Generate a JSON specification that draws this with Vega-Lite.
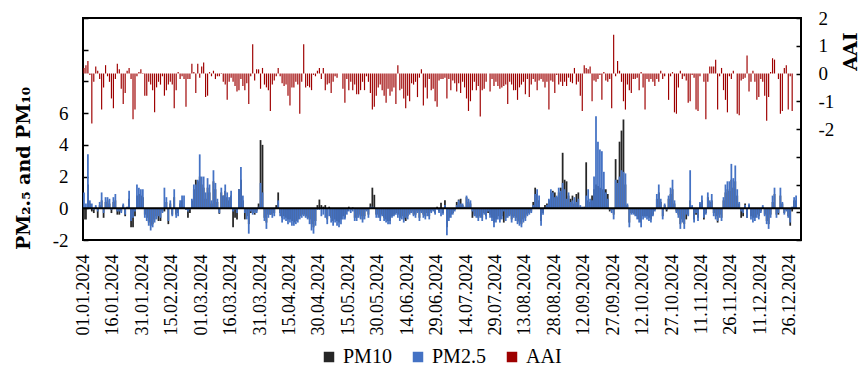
{
"$schema": "https://vega.github.io/schema/vega-lite/v6.json",
"width": 718,
"height": 222,
"autosize": {"type": "none"},
"padding": {"left": 83, "top": 18, "right": 64, "bottom": 129},
"background": "white",
"config": {"view": {"stroke": "#000", "strokeWidth": 2}, "font": "Liberation Serif"},
"data": {"values": [
{"d":"01.01.2024","pm10":-0.7,"pm25":1.0,"aai":0.2},
{"d":"02.01.2024","pm10":-0.7,"pm25":0.3,"aai":0.3},
{"d":"03.01.2024","pm10":1.5,"pm25":3.4,"aai":0.45},
{"d":"04.01.2024","pm10":0.3,"pm25":0.5,"aai":-0.05},
{"d":"05.01.2024","pm10":-0.2,"pm25":0.3,"aai":-1.8},
{"d":"06.01.2024","pm10":-0.3,"pm25":-0.1,"aai":-0.3},
{"d":"07.01.2024","pm10":0.1,"pm25":0.2,"aai":0.25},
{"d":"08.01.2024","pm10":-0.6,"pm25":-0.2,"aai":0.1},
{"d":"09.01.2024","pm10":0.2,"pm25":0.4,"aai":-0.2},
{"d":"10.01.2024","pm10":0.5,"pm25":1.0,"aai":-1.3},
{"d":"11.01.2024","pm10":-0.6,"pm25":-0.3,"aai":-0.5},
{"d":"12.01.2024","pm10":0.4,"pm25":0.7,"aai":0.3},
{"d":"13.01.2024","pm10":0.5,"pm25":0.7,"aai":-0.1},
{"d":"14.01.2024","pm10":0.3,"pm25":0.6,"aai":-0.3},
{"d":"15.01.2024","pm10":-0.3,"pm25":-0.1,"aai":-0.9},
{"d":"16.01.2024","pm10":0.4,"pm25":0.7,"aai":-1.25},
{"d":"17.01.2024","pm10":0.5,"pm25":0.9,"aai":-0.2},
{"d":"18.01.2024","pm10":-0.4,"pm25":-0.2,"aai":0.35},
{"d":"19.01.2024","pm10":-0.4,"pm25":-0.2,"aai":0.15},
{"d":"20.01.2024","pm10":-0.2,"pm25":-0.3,"aai":-0.55},
{"d":"21.01.2024","pm10":0.2,"pm25":0.3,"aai":-1.1},
{"d":"22.01.2024","pm10":-0.5,"pm25":-0.4,"aai":-0.7},
{"d":"23.01.2024","pm10":0.05,"pm25":0.1,"aai":0.1},
{"d":"24.01.2024","pm10":0.6,"pm25":1.1,"aai":0.2},
{"d":"25.01.2024","pm10":-1.2,"pm25":-0.8,"aai":-0.2},
{"d":"26.01.2024","pm10":-1.2,"pm25":-0.6,"aai":-1.65},
{"d":"27.01.2024","pm10":-0.5,"pm25":-0.2,"aai":-1.3},
{"d":"28.01.2024","pm10":0.8,"pm25":1.5,"aai":-0.1},
{"d":"29.01.2024","pm10":0.9,"pm25":1.3,"aai":0.05},
{"d":"30.01.2024","pm10":0.8,"pm25":1.2,"aai":0.15},
{"d":"31.01.2024","pm10":0.7,"pm25":1.2,"aai":0.02},
{"d":"01.02.2024","pm10":-0.4,"pm25":-0.6,"aai":-0.8},
{"d":"02.02.2024","pm10":-0.6,"pm25":-0.8,"aai":-0.8},
{"d":"03.02.2024","pm10":-0.9,"pm25":-1.1,"aai":-0.3},
{"d":"04.02.2024","pm10":-1.1,"pm25":-1.4,"aai":-0.4},
{"d":"05.02.2024","pm10":-1.0,"pm25":-1.2,"aai":-0.6},
{"d":"06.02.2024","pm10":-0.7,"pm25":-0.9,"aai":-1.4},
{"d":"07.02.2024","pm10":-0.5,"pm25":-0.7,"aai":-0.5},
{"d":"08.02.2024","pm10":-0.8,"pm25":-0.5,"aai":-0.3},
{"d":"09.02.2024","pm10":-0.8,"pm25":-0.6,"aai":-0.4},
{"d":"10.02.2024","pm10":-0.2,"pm25":-0.3,"aai":-0.1},
{"d":"11.02.2024","pm10":-0.2,"pm25":1.3,"aai":-0.8},
{"d":"12.02.2024","pm10":0.4,"pm25":0.7,"aai":-0.6},
{"d":"13.02.2024","pm10":-1.0,"pm25":-0.8,"aai":-0.4},
{"d":"14.02.2024","pm10":0.3,"pm25":0.5,"aai":-0.3},
{"d":"15.02.2024","pm10":-0.4,"pm25":-0.5,"aai":-0.4},
{"d":"16.02.2024","pm10":0.7,"pm25":1.2,"aai":-1.25},
{"d":"17.02.2024","pm10":-0.4,"pm25":-0.6,"aai":-0.6},
{"d":"18.02.2024","pm10":-0.3,"pm25":-0.5,"aai":0.05},
{"d":"19.02.2024","pm10":0.3,"pm25":0.5,"aai":-0.2},
{"d":"20.02.2024","pm10":0.5,"pm25":0.8,"aai":-0.1},
{"d":"21.02.2024","pm10":0.1,"pm25":0.8,"aai":-0.2},
{"d":"22.02.2024","pm10":-0.1,"pm25":-0.1,"aai":-1.2},
{"d":"23.02.2024","pm10":-0.6,"pm25":-0.2,"aai":-0.2},
{"d":"24.02.2024","pm10":-0.3,"pm25":-0.1,"aai":-0.2},
{"d":"25.02.2024","pm10":0.5,"pm25":0.6,"aai":0.35},
{"d":"26.02.2024","pm10":1.2,"pm25":1.5,"aai":0.05},
{"d":"27.02.2024","pm10":1.8,"pm25":1.5,"aai":-0.7},
{"d":"28.02.2024","pm10":1.7,"pm25":1.8,"aai":0.35},
{"d":"29.02.2024","pm10":2.0,"pm25":3.4,"aai":-0.15},
{"d":"01.03.2024","pm10":1.5,"pm25":2.0,"aai":0.25},
{"d":"02.03.2024","pm10":1.3,"pm25":2.0,"aai":0.4},
{"d":"03.03.2024","pm10":0.6,"pm25":1.0,"aai":-0.85},
{"d":"04.03.2024","pm10":1.3,"pm25":1.9,"aai":-0.8},
{"d":"05.03.2024","pm10":1.0,"pm25":1.5,"aai":0.05},
{"d":"06.03.2024","pm10":0.3,"pm25":0.5,"aai":-0.1},
{"d":"07.03.2024","pm10":1.7,"pm25":2.4,"aai":0.1},
{"d":"08.03.2024","pm10":1.2,"pm25":1.6,"aai":-0.2},
{"d":"09.03.2024","pm10":0.4,"pm25":0.6,"aai":-0.1},
{"d":"10.03.2024","pm10":-0.35,"pm25":-0.3,"aai":-0.1},
{"d":"11.03.2024","pm10":1.0,"pm25":1.3,"aai":0.02},
{"d":"12.03.2024","pm10":0.8,"pm25":0.8,"aai":-0.3},
{"d":"13.03.2024","pm10":1.1,"pm25":1.5,"aai":-0.4},
{"d":"14.03.2024","pm10":0.7,"pm25":1.0,"aai":-0.95},
{"d":"15.03.2024","pm10":0.5,"pm25":0.7,"aai":-0.3},
{"d":"16.03.2024","pm10":0.8,"pm25":1.1,"aai":-0.15},
{"d":"17.03.2024","pm10":-1.2,"pm25":-0.2,"aai":-0.3},
{"d":"18.03.2024","pm10":-0.6,"pm25":-0.1,"aai":-0.45},
{"d":"19.03.2024","pm10":-0.7,"pm25":-0.3,"aai":-0.65},
{"d":"20.03.2024","pm10":1.2,"pm25":1.2,"aai":-0.6},
{"d":"21.03.2024","pm10":1.8,"pm25":2.6,"aai":-0.2},
{"d":"22.03.2024","pm10":0.5,"pm25":0.8,"aai":-0.45},
{"d":"23.03.2024","pm10":-0.7,"pm25":-0.3,"aai":-0.6},
{"d":"24.03.2024","pm10":-0.5,"pm25":-0.7,"aai":-0.35},
{"d":"25.03.2024","pm10":-1.0,"pm25":-1.6,"aai":-1.1},
{"d":"26.03.2024","pm10":-0.3,"pm25":-0.2,"aai":-0.1},
{"d":"27.03.2024","pm10":-0.3,"pm25":-0.4,"aai":1.05},
{"d":"28.03.2024","pm10":-0.4,"pm25":-0.3,"aai":-0.25},
{"d":"29.03.2024","pm10":-0.2,"pm25":-0.3,"aai":0.15},
{"d":"30.03.2024","pm10":0.3,"pm25":0.1,"aai":0.15},
{"d":"31.03.2024","pm10":4.3,"pm25":1.6,"aai":-0.55},
{"d":"01.04.2024","pm10":4.0,"pm25":1.0,"aai":0.2},
{"d":"02.04.2024","pm10":-0.6,"pm25":-0.8,"aai":-0.4},
{"d":"03.04.2024","pm10":-0.9,"pm25":-1.3,"aai":-0.5},
{"d":"04.04.2024","pm10":-0.4,"pm25":-0.6,"aai":-0.6},
{"d":"05.04.2024","pm10":-0.4,"pm25":-0.4,"aai":-1.35},
{"d":"06.04.2024","pm10":-0.4,"pm25":-0.6,"aai":-0.4},
{"d":"07.04.2024","pm10":-0.3,"pm25":-0.5,"aai":-0.25},
{"d":"08.04.2024","pm10":0.2,"pm25":0.05,"aai":-0.1},
{"d":"09.04.2024","pm10":1.0,"pm25":0.5,"aai":0.2},
{"d":"10.04.2024","pm10":-0.3,"pm25":-0.5,"aai":-0.1},
{"d":"11.04.2024","pm10":-0.6,"pm25":-0.9,"aai":-0.35},
{"d":"12.04.2024","pm10":-0.5,"pm25":-0.7,"aai":-0.45},
{"d":"13.04.2024","pm10":-0.6,"pm25":-0.8,"aai":-0.4},
{"d":"14.04.2024","pm10":-0.7,"pm25":-1.0,"aai":-0.8},
{"d":"15.04.2024","pm10":-0.7,"pm25":-0.9,"aai":-1.15},
{"d":"16.04.2024","pm10":-0.8,"pm25":-1.1,"aai":-0.5},
{"d":"17.04.2024","pm10":-0.9,"pm25":-1.1,"aai":-0.5},
{"d":"18.04.2024","pm10":-0.8,"pm25":-1.0,"aai":-0.3},
{"d":"19.04.2024","pm10":-0.7,"pm25":-0.9,"aai":-0.4},
{"d":"20.04.2024","pm10":-0.5,"pm25":-0.7,"aai":-1.45},
{"d":"21.04.2024","pm10":-0.4,"pm25":-0.6,"aai":-0.3},
{"d":"22.04.2024","pm10":-0.4,"pm25":-0.5,"aai":1.05},
{"d":"23.04.2024","pm10":-0.5,"pm25":-0.6,"aai":-0.5},
{"d":"24.04.2024","pm10":-0.6,"pm25":-0.7,"aai":-0.45},
{"d":"25.04.2024","pm10":-0.7,"pm25":-1.0,"aai":-0.5},
{"d":"26.04.2024","pm10":-1.0,"pm25":-1.4,"aai":-0.6},
{"d":"27.04.2024","pm10":-1.2,"pm25":-1.6,"aai":-0.05},
{"d":"28.04.2024","pm10":-0.8,"pm25":-1.1,"aai":-0.1},
{"d":"29.04.2024","pm10":0.2,"pm25":-0.1,"aai":0.1},
{"d":"30.04.2024","pm10":0.55,"pm25":-0.1,"aai":0.2},
{"d":"01.05.2024","pm10":0.2,"pm25":-0.5,"aai":-0.2},
{"d":"02.05.2024","pm10":0.1,"pm25":-0.4,"aai":0.2},
{"d":"03.05.2024","pm10":0.2,"pm25":-0.6,"aai":-0.6},
{"d":"04.05.2024","pm10":-0.7,"pm25":-1.0,"aai":-0.4},
{"d":"05.05.2024","pm10":0.1,"pm25":-0.5,"aai":-0.35},
{"d":"06.05.2024","pm10":-0.6,"pm25":-0.9,"aai":-0.7},
{"d":"07.05.2024","pm10":-0.8,"pm25":-1.1,"aai":-0.3},
{"d":"08.05.2024","pm10":-0.7,"pm25":-0.9,"aai":-0.1},
{"d":"09.05.2024","pm10":-0.8,"pm25":-1.1,"aai":-0.15},
{"d":"10.05.2024","pm10":-0.9,"pm25":-1.2,"aai":0},
{"d":"11.05.2024","pm10":-0.7,"pm25":-1.0,"aai":0},
{"d":"12.05.2024","pm10":-0.5,"pm25":-0.7,"aai":-0.55},
{"d":"13.05.2024","pm10":-0.6,"pm25":-0.7,"aai":-1.05},
{"d":"14.05.2024","pm10":-0.2,"pm25":-0.4,"aai":-0.2},
{"d":"15.05.2024","pm10":0.1,"pm25":-0.2,"aai":-0.6},
{"d":"16.05.2024","pm10":-0.1,"pm25":-0.3,"aai":-0.3},
{"d":"17.05.2024","pm10":0.05,"pm25":-0.2,"aai":-0.6},
{"d":"18.05.2024","pm10":-0.6,"pm25":-0.8,"aai":-0.4},
{"d":"19.05.2024","pm10":-0.6,"pm25":-0.8,"aai":-0.75},
{"d":"20.05.2024","pm10":-0.4,"pm25":-0.6,"aai":-0.75},
{"d":"21.05.2024","pm10":-0.5,"pm25":-0.7,"aai":-0.6},
{"d":"22.05.2024","pm10":-0.7,"pm25":-0.9,"aai":-0.3},
{"d":"23.05.2024","pm10":-0.5,"pm25":-0.7,"aai":-0.6},
{"d":"24.05.2024","pm10":-0.1,"pm25":-0.2,"aai":-0.1},
{"d":"25.05.2024","pm10":-0.4,"pm25":-0.6,"aai":-0.3},
{"d":"26.05.2024","pm10":0.3,"pm25":0.1,"aai":-0.7},
{"d":"27.05.2024","pm10":1.3,"pm25":0.1,"aai":-1.3},
{"d":"28.05.2024","pm10":0.85,"pm25":0.05,"aai":-1.2},
{"d":"29.05.2024","pm10":-0.4,"pm25":-0.6,"aai":-0.8},
{"d":"30.05.2024","pm10":-0.4,"pm25":-0.6,"aai":-0.5},
{"d":"31.05.2024","pm10":-0.6,"pm25":-0.8,"aai":-0.4},
{"d":"01.06.2024","pm10":-0.4,"pm25":-0.5,"aai":-0.6},
{"d":"02.06.2024","pm10":-0.6,"pm25":-0.8,"aai":-0.8},
{"d":"03.06.2024","pm10":-0.7,"pm25":-0.9,"aai":-1.05},
{"d":"04.06.2024","pm10":-0.8,"pm25":-1.0,"aai":-0.55},
{"d":"05.06.2024","pm10":-0.8,"pm25":-1.0,"aai":-0.8},
{"d":"06.06.2024","pm10":-0.5,"pm25":-0.6,"aai":-0.65},
{"d":"07.06.2024","pm10":-0.4,"pm25":-0.5,"aai":-0.5},
{"d":"08.06.2024","pm10":-0.3,"pm25":-0.4,"aai":-1.1},
{"d":"09.06.2024","pm10":-0.4,"pm25":-0.6,"aai":0.3},
{"d":"10.06.2024","pm10":-0.6,"pm25":-0.8,"aai":-0.6},
{"d":"11.06.2024","pm10":-0.5,"pm25":-0.7,"aai":-0.55},
{"d":"12.06.2024","pm10":-0.7,"pm25":-0.9,"aai":-0.9},
{"d":"13.06.2024","pm10":-0.8,"pm25":-0.6,"aai":-1.25},
{"d":"14.06.2024","pm10":-0.5,"pm25":-0.7,"aai":-0.8},
{"d":"15.06.2024","pm10":-0.3,"pm25":-0.4,"aai":-1.0},
{"d":"16.06.2024","pm10":-0.2,"pm25":-0.3,"aai":-0.35},
{"d":"17.06.2024","pm10":-0.4,"pm25":-0.5,"aai":-0.4},
{"d":"18.06.2024","pm10":-0.4,"pm25":-0.6,"aai":-0.3},
{"d":"19.06.2024","pm10":-0.2,"pm25":-0.3,"aai":-0.85},
{"d":"20.06.2024","pm10":-0.6,"pm25":-0.8,"aai":-0.15},
{"d":"21.06.2024","pm10":-0.2,"pm25":-0.3,"aai":0.15},
{"d":"22.06.2024","pm10":-0.4,"pm25":-0.6,"aai":-1.15},
{"d":"23.06.2024","pm10":-0.5,"pm25":-0.7,"aai":-0.5},
{"d":"24.06.2024","pm10":-0.3,"pm25":-0.5,"aai":-0.9},
{"d":"25.06.2024","pm10":-0.5,"pm25":-0.7,"aai":-0.2},
{"d":"26.06.2024","pm10":-0.2,"pm25":-0.3,"aai":-0.6},
{"d":"27.06.2024","pm10":-0.1,"pm25":-0.2,"aai":-0.55},
{"d":"28.06.2024","pm10":-0.3,"pm25":-0.4,"aai":-1.0},
{"d":"29.06.2024","pm10":0.1,"pm25":-0.1,"aai":-1.2},
{"d":"30.06.2024","pm10":-0.2,"pm25":-0.3,"aai":-0.25},
{"d":"01.07.2024","pm10":0.35,"pm25":-0.5,"aai":-0.2},
{"d":"02.07.2024","pm10":-0.3,"pm25":-0.4,"aai":-0.2},
{"d":"03.07.2024","pm10":0.5,"pm25":0.2,"aai":-0.15},
{"d":"04.07.2024","pm10":-1.2,"pm25":-1.7,"aai":-0.9},
{"d":"05.07.2024","pm10":-0.6,"pm25":-0.8,"aai":-0.2},
{"d":"06.07.2024","pm10":-0.4,"pm25":-0.6,"aai":-0.6},
{"d":"07.07.2024","pm10":-0.3,"pm25":-0.4,"aai":-0.25},
{"d":"08.07.2024","pm10":-0.1,"pm25":-0.2,"aai":-0.35},
{"d":"09.07.2024","pm10":0.4,"pm25":0.2,"aai":-0.65},
{"d":"10.07.2024","pm10":0.55,"pm25":0.5,"aai":-0.35},
{"d":"11.07.2024","pm10":0.6,"pm25":0.3,"aai":-0.7},
{"d":"12.07.2024","pm10":0.2,"pm25":0.3,"aai":-0.3},
{"d":"13.07.2024","pm10":0.05,"pm25":0.1,"aai":-0.5},
{"d":"14.07.2024","pm10":0.7,"pm25":0.8,"aai":-0.9},
{"d":"15.07.2024","pm10":0.4,"pm25":0.6,"aai":-1.35},
{"d":"16.07.2024","pm10":0.3,"pm25":0.5,"aai":-1.0},
{"d":"17.07.2024","pm10":-0.6,"pm25":-0.2,"aai":-0.6},
{"d":"18.07.2024","pm10":-0.4,"pm25":-0.5,"aai":-0.3},
{"d":"19.07.2024","pm10":-0.5,"pm25":-0.6,"aai":-0.6},
{"d":"20.07.2024","pm10":-0.6,"pm25":-0.8,"aai":-0.45},
{"d":"21.07.2024","pm10":-0.5,"pm25":-0.6,"aai":-1.55},
{"d":"22.07.2024","pm10":-0.6,"pm25":-0.8,"aai":-0.6},
{"d":"23.07.2024","pm10":-0.3,"pm25":-0.4,"aai":-0.55},
{"d":"24.07.2024","pm10":-0.5,"pm25":-0.7,"aai":-0.3},
{"d":"25.07.2024","pm10":-0.3,"pm25":-0.2,"aai":0},
{"d":"26.07.2024","pm10":-0.4,"pm25":-0.6,"aai":-0.65},
{"d":"27.07.2024","pm10":-0.6,"pm25":-0.8,"aai":-0.2},
{"d":"28.07.2024","pm10":-0.9,"pm25":-1.2,"aai":-0.45},
{"d":"29.07.2024","pm10":-0.7,"pm25":-0.9,"aai":-0.3},
{"d":"30.07.2024","pm10":-0.5,"pm25":-0.7,"aai":-0.45},
{"d":"31.07.2024","pm10":-0.7,"pm25":-0.9,"aai":-0.55},
{"d":"01.08.2024","pm10":-0.5,"pm25":-0.7,"aai":-0.5},
{"d":"02.08.2024","pm10":-0.9,"pm25":-0.2,"aai":-0.45},
{"d":"03.08.2024","pm10":-0.6,"pm25":-0.8,"aai":-0.4},
{"d":"04.08.2024","pm10":-0.5,"pm25":-0.6,"aai":-1.1},
{"d":"05.08.2024","pm10":-0.4,"pm25":-0.5,"aai":-0.3},
{"d":"06.08.2024","pm10":-0.7,"pm25":-0.9,"aai":-0.4},
{"d":"07.08.2024","pm10":-0.5,"pm25":-0.6,"aai":-0.6},
{"d":"08.08.2024","pm10":-0.6,"pm25":-0.8,"aai":-0.6},
{"d":"09.08.2024","pm10":-0.8,"pm25":-1.0,"aai":-0.95},
{"d":"10.08.2024","pm10":-0.9,"pm25":-1.1,"aai":-0.5},
{"d":"11.08.2024","pm10":-1.0,"pm25":-1.2,"aai":-0.4},
{"d":"12.08.2024","pm10":-0.7,"pm25":-0.9,"aai":-0.3},
{"d":"13.08.2024","pm10":-0.6,"pm25":-0.8,"aai":-0.75},
{"d":"14.08.2024","pm10":-0.4,"pm25":-0.5,"aai":-0.2},
{"d":"15.08.2024","pm10":-0.3,"pm25":-0.4,"aai":-0.85},
{"d":"16.08.2024","pm10":-0.2,"pm25":-0.3,"aai":-0.4},
{"d":"17.08.2024","pm10":0.4,"pm25":0.2,"aai":-0.2},
{"d":"18.08.2024","pm10":1.3,"pm25":0.9,"aai":-0.3},
{"d":"19.08.2024","pm10":0.9,"pm25":1.2,"aai":-0.6},
{"d":"20.08.2024","pm10":0.5,"pm25":0.8,"aai":-0.25},
{"d":"21.08.2024","pm10":-0.8,"pm25":-1.1,"aai":-0.2},
{"d":"22.08.2024","pm10":-0.3,"pm25":-0.4,"aai":-0.3},
{"d":"23.08.2024","pm10":0.2,"pm25":0.05,"aai":-0.5},
{"d":"24.08.2024","pm10":0.3,"pm25":0.2,"aai":-0.3},
{"d":"25.08.2024","pm10":0.5,"pm25":0.6,"aai":-1.3},
{"d":"26.08.2024","pm10":1.0,"pm25":1.2,"aai":-0.25},
{"d":"27.08.2024","pm10":1.1,"pm25":1.0,"aai":-0.3},
{"d":"28.08.2024","pm10":1.0,"pm25":0.7,"aai":-0.7},
{"d":"29.08.2024","pm10":0.7,"pm25":0.8,"aai":-0.05},
{"d":"30.08.2024","pm10":1.0,"pm25":1.3,"aai":-0.4},
{"d":"31.08.2024","pm10":1.3,"pm25":1.1,"aai":-0.3},
{"d":"01.09.2024","pm10":3.5,"pm25":1.6,"aai":-0.45},
{"d":"02.09.2024","pm10":1.8,"pm25":1.2,"aai":-0.3},
{"d":"03.09.2024","pm10":1.7,"pm25":0.6,"aai":-0.45},
{"d":"04.09.2024","pm10":0.8,"pm25":1.0,"aai":-0.15},
{"d":"05.09.2024","pm10":0.6,"pm25":0.4,"aai":-0.3},
{"d":"06.09.2024","pm10":0.8,"pm25":0.5,"aai":-0.35},
{"d":"07.09.2024","pm10":0.3,"pm25":0.7,"aai":0.2},
{"d":"08.09.2024","pm10":0.9,"pm25":0.4,"aai":-0.4},
{"d":"09.09.2024","pm10":1.0,"pm25":0.6,"aai":-0.3},
{"d":"10.09.2024","pm10":0.1,"pm25":0.2,"aai":-0.8},
{"d":"11.09.2024","pm10":0.05,"pm25":0.1,"aai":-1.35},
{"d":"12.09.2024","pm10":0.1,"pm25":0.05,"aai":0.3},
{"d":"13.09.2024","pm10":2.9,"pm25":0.8,"aai":0.2},
{"d":"14.09.2024","pm10":0.5,"pm25":1.2,"aai":0.15},
{"d":"15.09.2024","pm10":0.4,"pm25":0.6,"aai":0.25},
{"d":"16.09.2024","pm10":0.8,"pm25":0.5,"aai":-1.0},
{"d":"17.09.2024","pm10":1.2,"pm25":2.0,"aai":-0.25},
{"d":"18.09.2024","pm10":1.5,"pm25":5.8,"aai":-0.3},
{"d":"19.09.2024","pm10":1.4,"pm25":4.2,"aai":-0.2},
{"d":"20.09.2024","pm10":1.3,"pm25":3.7,"aai":-0.05},
{"d":"21.09.2024","pm10":1.2,"pm25":3.6,"aai":-0.95},
{"d":"22.09.2024","pm10":1.2,"pm25":2.3,"aai":0.05},
{"d":"23.09.2024","pm10":1.2,"pm25":1.0,"aai":-0.25},
{"d":"24.09.2024","pm10":0.9,"pm25":0.6,"aai":-0.3},
{"d":"25.09.2024","pm10":-0.2,"pm25":-0.1,"aai":-0.2},
{"d":"26.09.2024","pm10":-0.1,"pm25":-0.3,"aai":-1.25},
{"d":"27.09.2024","pm10":-0.4,"pm25":-0.7,"aai":1.4},
{"d":"28.09.2024","pm10":3.1,"pm25":1.8,"aai":-0.1},
{"d":"29.09.2024","pm10":1.8,"pm25":1.6,"aai":0.45},
{"d":"30.09.2024","pm10":4.2,"pm25":2.0,"aai":0.1},
{"d":"01.10.2024","pm10":4.9,"pm25":2.4,"aai":-0.3},
{"d":"02.10.2024","pm10":5.6,"pm25":2.3,"aai":-1.0},
{"d":"03.10.2024","pm10":1.5,"pm25":2.2,"aai":-1.3},
{"d":"04.10.2024","pm10":0.2,"pm25":0.3,"aai":-0.4},
{"d":"05.10.2024","pm10":-0.9,"pm25":-1.2,"aai":-0.6},
{"d":"06.10.2024","pm10":-0.3,"pm25":-0.4,"aai":-0.7},
{"d":"07.10.2024","pm10":-0.3,"pm25":-0.4,"aai":-0.2},
{"d":"08.10.2024","pm10":-0.4,"pm25":-0.5,"aai":-0.2},
{"d":"09.10.2024","pm10":-0.5,"pm25":-0.7,"aai":-0.15},
{"d":"10.10.2024","pm10":-0.7,"pm25":-0.9,"aai":-0.6},
{"d":"11.10.2024","pm10":-0.9,"pm25":-1.2,"aai":0.05},
{"d":"12.10.2024","pm10":-0.5,"pm25":-0.7,"aai":-0.5},
{"d":"13.10.2024","pm10":-0.5,"pm25":-0.6,"aai":-1.3},
{"d":"14.10.2024","pm10":-0.5,"pm25":-0.7,"aai":-0.2},
{"d":"15.10.2024","pm10":-0.6,"pm25":-0.8,"aai":-0.3},
{"d":"16.10.2024","pm10":-0.7,"pm25":-0.9,"aai":-0.2},
{"d":"17.10.2024","pm10":-0.4,"pm25":-0.5,"aai":-0.3},
{"d":"18.10.2024","pm10":-0.1,"pm25":-0.2,"aai":-0.45},
{"d":"19.10.2024","pm10":0.6,"pm25":0.9,"aai":-0.2},
{"d":"20.10.2024","pm10":1.0,"pm25":1.5,"aai":-0.3},
{"d":"21.10.2024","pm10":0.4,"pm25":0.6,"aai":0.1},
{"d":"22.10.2024","pm10":-0.5,"pm25":-0.7,"aai":-0.2},
{"d":"23.10.2024","pm10":0.2,"pm25":0.3,"aai":-0.1},
{"d":"24.10.2024","pm10":-0.2,"pm25":-0.1,"aai":0},
{"d":"25.10.2024","pm10":0.6,"pm25":0.8,"aai":-0.95},
{"d":"26.10.2024","pm10":0.9,"pm25":1.3,"aai":-0.1},
{"d":"27.10.2024","pm10":1.2,"pm25":1.8,"aai":0.05},
{"d":"28.10.2024","pm10":0.3,"pm25":0.5,"aai":-1.4},
{"d":"29.10.2024","pm10":-0.2,"pm25":-0.3,"aai":-1.45},
{"d":"30.10.2024","pm10":-0.4,"pm25":-0.6,"aai":-0.5},
{"d":"31.10.2024","pm10":-1.0,"pm25":-1.3,"aai":0.1},
{"d":"01.11.2024","pm10":-0.7,"pm25":-0.9,"aai":-0.2},
{"d":"02.11.2024","pm10":-1.0,"pm25":-1.3,"aai":-0.1},
{"d":"03.11.2024","pm10":-0.7,"pm25":-0.4,"aai":-0.25},
{"d":"04.11.2024","pm10":-0.4,"pm25":-0.5,"aai":-1.05},
{"d":"05.11.2024","pm10":0.5,"pm25":2.4,"aai":-1.0},
{"d":"06.11.2024","pm10":0.1,"pm25":0.2,"aai":-0.05},
{"d":"07.11.2024","pm10":-0.7,"pm25":-0.9,"aai":-0.15},
{"d":"08.11.2024","pm10":-0.4,"pm25":-0.3,"aai":-1.3},
{"d":"09.11.2024","pm10":-0.6,"pm25":-0.8,"aai":-1.35},
{"d":"10.11.2024","pm10":0.3,"pm25":0.4,"aai":-0.1},
{"d":"11.11.2024","pm10":0.5,"pm25":0.8,"aai":0},
{"d":"12.11.2024","pm10":-0.7,"pm25":-0.6,"aai":-0.3},
{"d":"13.11.2024","pm10":-0.3,"pm25":-0.4,"aai":-1.65},
{"d":"14.11.2024","pm10":0.7,"pm25":1.0,"aai":-0.3},
{"d":"15.11.2024","pm10":0.4,"pm25":0.5,"aai":0.25},
{"d":"16.11.2024","pm10":0.5,"pm25":0.9,"aai":0.25},
{"d":"17.11.2024","pm10":-0.3,"pm25":-0.5,"aai":0.25},
{"d":"18.11.2024","pm10":-0.5,"pm25":-0.7,"aai":0.5},
{"d":"19.11.2024","pm10":-0.9,"pm25":-0.8,"aai":-1.3},
{"d":"20.11.2024","pm10":-0.4,"pm25":-0.6,"aai":-0.1},
{"d":"21.11.2024","pm10":-0.6,"pm25":-0.8,"aai":0.2},
{"d":"22.11.2024","pm10":0.5,"pm25":0.7,"aai":-0.6},
{"d":"23.11.2024","pm10":1.0,"pm25":1.5,"aai":-0.95},
{"d":"24.11.2024","pm10":1.2,"pm25":1.7,"aai":-1.4},
{"d":"25.11.2024","pm10":1.1,"pm25":1.7,"aai":-0.1},
{"d":"26.11.2024","pm10":1.8,"pm25":2.8,"aai":-0.2},
{"d":"27.11.2024","pm10":1.3,"pm25":1.9,"aai":0.1},
{"d":"28.11.2024","pm10":1.7,"pm25":2.7,"aai":0},
{"d":"29.11.2024","pm10":0.8,"pm25":1.2,"aai":-1.45},
{"d":"30.11.2024","pm10":0.3,"pm25":0.4,"aai":-1.5},
{"d":"01.12.2024","pm10":-0.6,"pm25":-0.2,"aai":-0.25},
{"d":"02.12.2024","pm10":-0.5,"pm25":-0.3,"aai":-0.2},
{"d":"03.12.2024","pm10":0.3,"pm25":0.2,"aai":-0.15},
{"d":"04.12.2024","pm10":-0.6,"pm25":-0.6,"aai":0.65},
{"d":"05.12.2024","pm10":0.2,"pm25":0.3,"aai":-0.65},
{"d":"06.12.2024","pm10":-0.5,"pm25":-0.7,"aai":-0.3},
{"d":"07.12.2024","pm10":-0.6,"pm25":-0.9,"aai":0.1},
{"d":"08.12.2024","pm10":-0.6,"pm25":-0.8,"aai":-0.3},
{"d":"09.12.2024","pm10":-0.4,"pm25":-0.6,"aai":-0.95},
{"d":"10.12.2024","pm10":-0.5,"pm25":-0.7,"aai":-0.85},
{"d":"11.12.2024","pm10":-0.2,"pm25":-0.3,"aai":-0.2},
{"d":"12.12.2024","pm10":0.1,"pm25":0.2,"aai":-0.3},
{"d":"13.12.2024","pm10":-0.4,"pm25":-0.5,"aai":-0.8},
{"d":"14.12.2024","pm10":-0.8,"pm25":-1.0,"aai":-1.7},
{"d":"15.12.2024","pm10":-1.0,"pm25":-1.3,"aai":-0.85},
{"d":"16.12.2024","pm10":-0.4,"pm25":-0.6,"aai":0.05},
{"d":"17.12.2024","pm10":0.4,"pm25":0.8,"aai":0.55},
{"d":"18.12.2024","pm10":0.9,"pm25":1.3,"aai":0.5},
{"d":"19.12.2024","pm10":-0.4,"pm25":-0.6,"aai":0},
{"d":"20.12.2024","pm10":-0.4,"pm25":-0.3,"aai":-0.2},
{"d":"21.12.2024","pm10":0.8,"pm25":1.3,"aai":-1.45},
{"d":"22.12.2024","pm10":0.3,"pm25":0.4,"aai":-1.35},
{"d":"23.12.2024","pm10":-0.3,"pm25":-0.4,"aai":0.2},
{"d":"24.12.2024","pm10":-0.1,"pm25":-0.2,"aai":0.3},
{"d":"25.12.2024","pm10":-0.5,"pm25":-0.6,"aai":-1.3},
{"d":"26.12.2024","pm10":-1.1,"pm25":-0.9,"aai":-0.1},
{"d":"27.12.2024","pm10":-0.2,"pm25":0.1,"aai":-1.35},
{"d":"28.12.2024","pm10":0.5,"pm25":0.7,"aai":0},
{"d":"29.12.2024","pm10":0.5,"pm25":0.8,"aai":0},
{"d":"30.12.2024","pm10":0,"pm25":0,"aai":0},
{"d":"31.12.2024","pm10":0,"pm25":0,"aai":0}
]},
"layer": [
  {
    "mark": {"type": "bar", "width": {"band": 0.9}},
    "encoding": {
      "x": {"field": "d", "type": "ordinal", "sort": null, "title": null,
        "scale": {"paddingInner": 0, "paddingOuter": 0},
        "axis": {"values": ["01.01.2024","16.01.2024","31.01.2024","15.02.2024","01.03.2024","16.03.2024","31.03.2024","15.04.2024","30.04.2024","15.05.2024","30.05.2024","14.06.2024","29.06.2024","14.07.2024","29.07.2024","13.08.2024","28.08.2024","12.09.2024","27.09.2024","12.10.2024","27.10.2024","11.11.2024","26.11.2024","11.12.2024","26.12.2024"],
          "labelAngle": 270, "ticks": false, "domain": false, "labelPadding": 14, "labelFont": "Liberation Serif", "labelFontSize": 18, "labelColor": "#000", "labelOverlap": false}},
      "y": {"field": "pm10", "type": "quantitative", "scale": {"domain": [-2, 12], "nice": false},
        "axis": {"values": [-2,0,2,4,6,8,10,12], "labelExpr": "datum.value <= 6 ? '' + datum.value : ''",
          "title": "PM₂.₅ and PM₁₀", "titleFont": "DejaVu Serif", "titleFontSize": 19, "titleFontWeight": "bold", "titleColor": "#000",
          "titleAngle": 270, "titleX": -60, "titleY": 150, "titleAlign": "center", "titleBaseline": "middle",
          "labelFont": "Liberation Serif", "labelFontSize": 19, "labelColor": "#000", "labelPadding": 20, "labelFlush": false,
          "tickSize": -5, "tickColor": "#000", "tickWidth": 1.5, "domain": false, "grid": false}},
      "color": {"datum": "PM10", "type": "nominal",
        "scale": {"domain": ["PM10", "PM2.5", "AAI"], "range": ["#262626", "#4472C4", "#9E0000"]},
        "legend": {"orient": "none", "legendX": 236, "legendY": 329, "direction": "horizontal", "columns": 3, "gridAlign": "each", "title": null, "symbolType": "square", "symbolSize": 110,
          "labelFont": "Liberation Serif", "labelFontSize": 20, "labelColor": "#000", "columnPadding": 16, "symbolStrokeWidth": 0, "labelOffset": 4}}
    }
  },
  {
    "mark": {"type": "bar", "width": {"band": 0.9}},
    "encoding": {
      "x": {"field": "d", "type": "ordinal", "sort": null},
      "y": {"field": "pm25", "type": "quantitative", "scale": {"domain": [-2, 12], "nice": false}, "axis": null},
      "color": {"datum": "PM2.5", "type": "nominal"}
    }
  },
  {
    "data": {"values": [{}]},
    "mark": {"type": "rule", "color": "#000", "strokeWidth": 2},
    "encoding": {"y": {"datum": 0, "type": "quantitative", "scale": {"domain": [-2, 12], "nice": false}, "axis": null}}
  },
  {
    "mark": {"type": "bar", "width": {"band": 0.6}},
    "encoding": {
      "x": {"field": "d", "type": "ordinal", "sort": null},
      "y": {"field": "aai", "type": "quantitative", "scale": {"domain": [-6, 2], "nice": false},
        "axis": {"orient": "right", "values": [-6,-5,-4,-3,-2,-1,0,1,2], "labelExpr": "datum.value >= -2 ? '' + datum.value : ''",
          "title": "AAI", "titleFont": "DejaVu Serif", "titleFontSize": 19, "titleFontWeight": "bold", "titleColor": "#000",
          "titleAngle": 270, "titleX": 49, "titleY": 33, "titleAlign": "center", "titleBaseline": "middle",
          "labelFont": "Liberation Serif", "labelFontSize": 19, "labelColor": "#000", "labelPadding": 22, "labelFlush": false,
          "tickSize": -5, "tickColor": "#000", "tickWidth": 1.5, "domain": false, "grid": false}},
      "color": {"datum": "AAI", "type": "nominal"}
    }
  }
],
"resolve": {"scale": {"y": "independent"}}
}
